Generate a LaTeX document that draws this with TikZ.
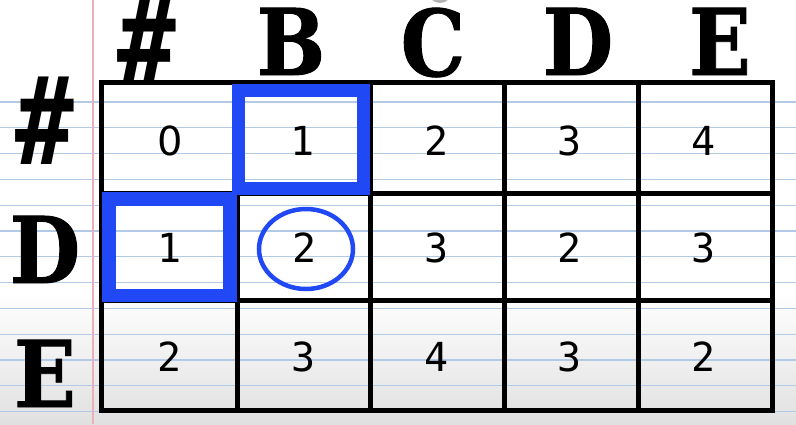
\documentclass[tikz,border=0pt]{standalone}
\usepackage{fontspec}
\newfontfamily\hdrfont[FakeStretch=0.88, FakeBold=1]{DejaVu Serif}
\newfontfamily\hashfont[FakeStretch=0.8]{DejaVu Sans Mono}
\newfontfamily\digfont{DejaVu Sans Mono}
\newfontfamily\zerofont{DejaVu Sans}
\definecolor{ruleblue}{RGB}{178,202,230}
\definecolor{marginred}{RGB}{235,175,185}
\definecolor{markblue}{RGB}{32,72,245}
\tikzset{
  hdr/.style={anchor=base, inner sep=0pt, text depth=0pt, font=\hdrfont\bfseries\fontsize{92}{92}\selectfont},
  hash/.style={anchor=base, inner sep=0pt, text depth=0pt, font=\hashfont\bfseries\fontsize{122}{122}\selectfont},
  dig/.style={anchor=base, inner sep=0pt, font=\digfont\fontsize{40}{40}\selectfont},
  gridline/.style={line width=5pt, black},
  markbox/.style={line width=13.5pt, markblue},
}
\begin{document}
\begin{tikzpicture}[x=1pt,y=-1pt]
\useasboundingbox (0,0) rectangle (796,424);
\fill[white] (0,0) rectangle (796,424);
\shade[top color=white, bottom color=black!12] (0,292) rectangle (796,424);
% ruled lines
\foreach \k in {0,...,12}{
  \draw[ruleblue, line width=1.3pt] (0,{102+25.8*\k}) -- (796,{102+25.8*\k});
}
\draw[marginred, line width=1.2pt] (93,0) -- (93,424);
\fill[black!30] (440,-9) circle (12);
% headers
\node[hash] (hh) at (147,84) {\#};
\node[hdr] (hb) at (291,75) {B};
\node[hdr] (hc) at (433,76) {C};
\node[hdr] (hd) at (578,75) {D};
\node[hdr] (he) at (720,75) {E};
\node[hash] (vh) at (45,164) {\#};
\node[hdr] (vd) at (45,283) {D};
\node[hdr] (ve) at (45,407) {E};
% grid
\draw[gridline] (101,82) rectangle (772,410);
\foreach \x in {237,370,504,638}{\draw[gridline] (\x,82) -- (\x,410);}
\foreach \y in {193,300}{\draw[gridline] (101,\y) -- (772,\y);}
% highlights
\draw[markbox] (238.5,90.5) rectangle (363.5,188.5);
\draw[markbox] (109,199) rectangle (230,295.5);
% values
\node[dig, font=\zerofont\fontsize{40}{40}\selectfont] (c11) at (170,155) {0};
\node[dig] (c12) at (303,155) {1};
\node[dig] (c13) at (437,155) {2};
\node[dig] (c14) at (570,155) {3};
\node[dig] (c15) at (704,155) {4};
\node[dig] (c21) at (170,262) {1};
\node[dig] (c22) at (305,262) {2};
\node[dig] (c23) at (437,262) {3};
\node[dig] (c24) at (570,262) {2};
\node[dig] (c25) at (704,262) {3};
\node[dig] (c31) at (170,371) {2};
\node[dig] (c32) at (304,371) {3};
\node[dig] (c33) at (437,371) {4};
\node[dig] (c34) at (570,371) {3};
\node[dig] (c35) at (704,371) {2};
% circle
\draw[markblue, line width=4.5pt] (306,249) ellipse [x radius=47, y radius=40];
\end{tikzpicture}
\end{document}
